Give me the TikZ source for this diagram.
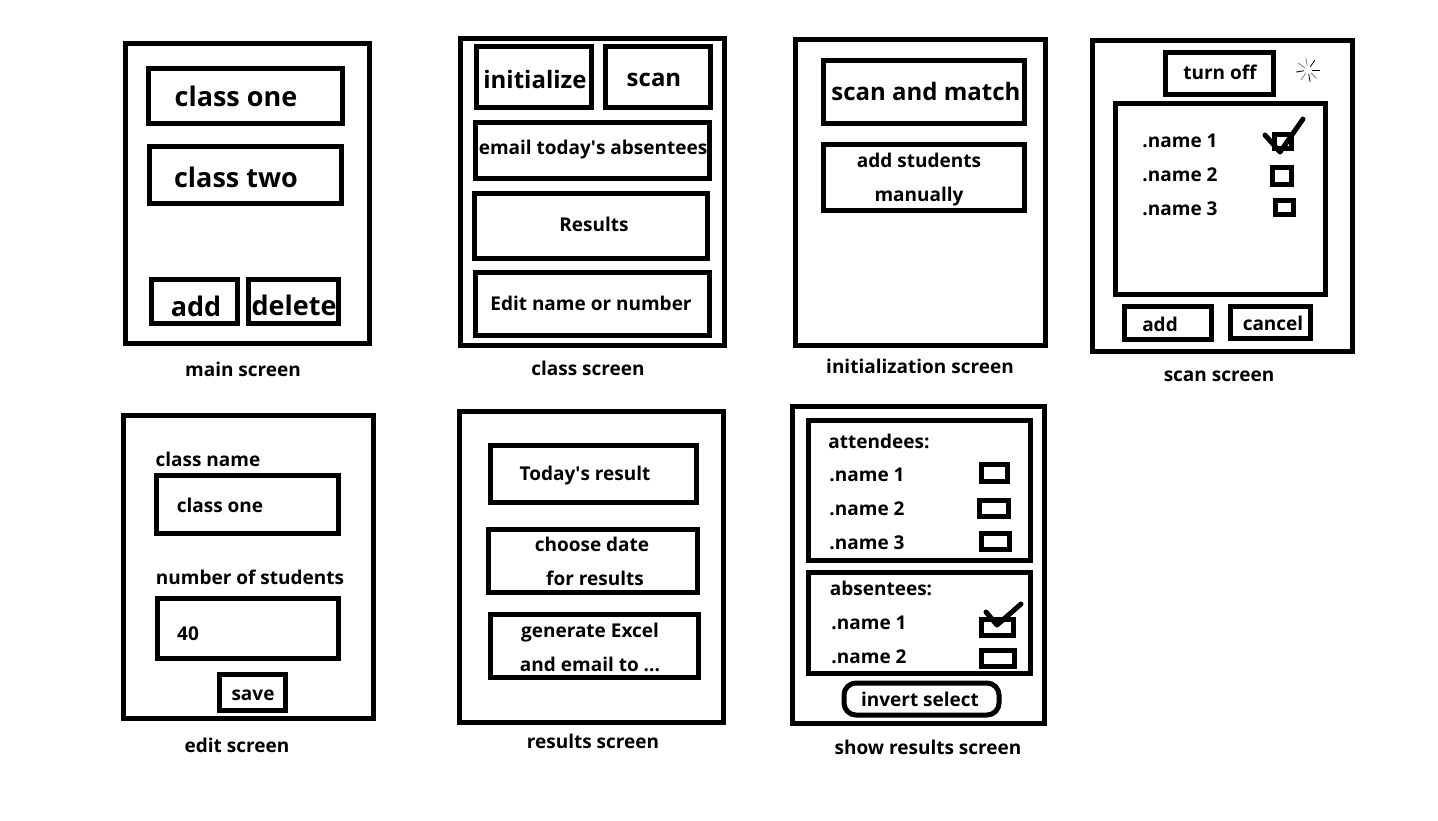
\documentclass[tikz,border=0pt]{standalone}
\usepackage{fontspec}
\setmainfont{Open Sans}
\tikzset{
	box/.style={line width=5pt, draw=black},
	tick/.style={line width=5pt, line cap=round, line join=round},
	smallbox/.style={line width=5pt, draw=black},
	txt/.style={font=\bfseries\fontsize{19}{24}\selectfont, inner sep=0pt, text height=14pt, text depth=0pt},
	bigtxt/.style={font=\bfseries\fontsize{27}{32}\selectfont, inner sep=0pt, text height=20pt, text depth=0pt},
	midtxt/.style={font=\bfseries\fontsize{24}{30}\selectfont, inner sep=0pt, text height=17pt, text depth=0pt}
}
\begin{document}
\begin{tikzpicture}[x=1pt, y=-1pt]
	\useasboundingbox (0,0) rectangle (1438,820);

	% main screen
	\draw[box] (125,43) rectangle (369,343);
	\draw[box] (148,68) rectangle (342,123);
	\draw[box] (149,146) rectangle (341,203);
	\draw[box] (151,279) rectangle (237,323);
	\draw[box] (248,279) rectangle (338,323);
	\node[bigtxt] (classone) at (236,96) {class one};
	\node[bigtxt] (classtwo) at (236,177) {class two};
	\node[bigtxt] (addclass) at (196,306) {add};
	\node[bigtxt] (delclass) at (294,305) {delete};
	\node[txt] (mainname) at (243,369) {main screen};

	% class screen
	\draw[box] (460,38) rectangle (724,345);
	\draw[box] (476,46) rectangle (591,107);
	\draw[box] (605,46) rectangle (710,107);
	\draw[box] (475,122) rectangle (709,178);
	\draw[box] (474,193) rectangle (707,258);
	\draw[box] (475,272) rectangle (709,335);
	\node[midtxt] (initbtn) at (535,80) {initialize};
	\node[midtxt] (scanbtn) at (654,78) {scan};
	\node[txt] (emailbtn) at (593,147) {email today\textquotesingle s absentees};
	\node[txt] (resultsbtn) at (594,224) {Results};
	\node[txt] (editbtn) at (591,303) {Edit name or number};
	\node[txt] (classname) at (588,368) {class screen};

	% initialization screen
	\draw[box] (795,39) rectangle (1045,345);
	\draw[box] (823,60) rectangle (1024,123);
	\draw[box] (823,144) rectangle (1024,210);
	\node[midtxt] (matchbtn) at (926,92) {scan and match};
	\node[txt] (addone) at (919,160) {add students};
	\node[txt] (addtwo) at (919,194) {manually};
	\node[txt] (initname) at (920,366) {initialization screen};

	% scan screen
	\draw[box] (1092,40) rectangle (1352,351);
	\draw[box] (1165,52) rectangle (1273,94);
	\draw[box] (1115,103) rectangle (1325,294);
	\draw[box] (1124,306) rectangle (1211,339);
	\draw[box] (1230,306) rectangle (1310,338);
	\draw[smallbox] (1274,134) rectangle (1291,148);
	\draw[smallbox] (1272,167) rectangle (1291,184);
	\draw[smallbox] (1275.5,200) rectangle (1293,214);
	\draw[tick] (1265,135) -- (1280,152) -- (1303,119);
	\foreach \ang/\shade in {0/black,45/gray,80/black,125/gray,170/black,215/gray,260/gray,305/black}
		\draw[\shade, line width=.8pt] (1308,70) ++(\ang:4) -- ++(\ang:8);
	\node[txt] (offbtn) at (1220,72) {turn off};
	\node[txt] (scanone) at (1180,140) {.name 1};
	\node[txt] (scantwo) at (1180,174) {.name 2};
	\node[txt] (scanthree) at (1180,208) {.name 3};
	\node[txt] (addbtn) at (1160,324) {add};
	\node[txt] (cancelbtn) at (1273,323) {cancel};
	\node[txt] (scanname) at (1219,374) {scan screen};

	% edit screen
	\draw[box] (123,415) rectangle (373,718);
	\draw[box] (156,475) rectangle (338,533);
	\draw[box] (157,598) rectangle (338,658);
	\draw[box] (219,674) rectangle (285,710);
	\node[txt] (namelabel) at (208,459) {class name};
	\node[txt] (namefield) at (220,505) {class one};
	\node[txt] (numlabel) at (250,577) {number of students};
	\node[txt] (numfield) at (188,633) {40};
	\node[txt] (savebtn) at (253,693) {save};
	\node[txt] (editname) at (237,745) {edit screen};

	% results screen
	\draw[box] (459,411) rectangle (723,722);
	\draw[box] (490,445) rectangle (696,502);
	\draw[box] (488,529) rectangle (697,592);
	\draw[box] (490,614) rectangle (698,677);
	\node[txt] (todaybtn) at (585,473) {Today\textquotesingle s result};
	\node[txt] (dateone) at (592,544) {choose date};
	\node[txt] (datetwo) at (595,578) {for results};
	\node[txt] (excelone) at (590,630) {generate Excel};
	\node[txt] (exceltwo) at (590,664) {and email to ...};
	\node[txt] (resultsname) at (593,741) {results screen};

	% show results screen
	\draw[box] (792,406) rectangle (1044,723);
	\draw[box] (808,420) rectangle (1030,560);
	\draw[box] (808,572) rectangle (1030,673);
	\draw[smallbox] (981,464) rectangle (1007,481);
	\draw[smallbox] (979,500) rectangle (1008,516);
	\draw[smallbox] (981,533) rectangle (1009,549);
	\draw[smallbox] (981,619) rectangle (1013,635);
	\draw[smallbox] (981,650) rectangle (1014,666);
	\draw[tick] (986,612) -- (997,625) -- (1021,604);
	\draw[box, rounded corners=12pt] (844,683) rectangle (999,715);
	\node[txt] (attlabel) at (879,441) {attendees:};
	\node[txt] (attone) at (867,474) {.name 1};
	\node[txt] (atttwo) at (867,508) {.name 2};
	\node[txt] (attthree) at (867,542) {.name 3};
	\node[txt] (abslabel) at (881,588) {absentees:};
	\node[txt] (absone) at (869,622) {.name 1};
	\node[txt] (abstwo) at (869,656) {.name 2};
	\node[txt] (invertbtn) at (920,699) {invert select};
	\node[txt] (showname) at (928,747) {show results screen};
\end{tikzpicture}
\end{document}
